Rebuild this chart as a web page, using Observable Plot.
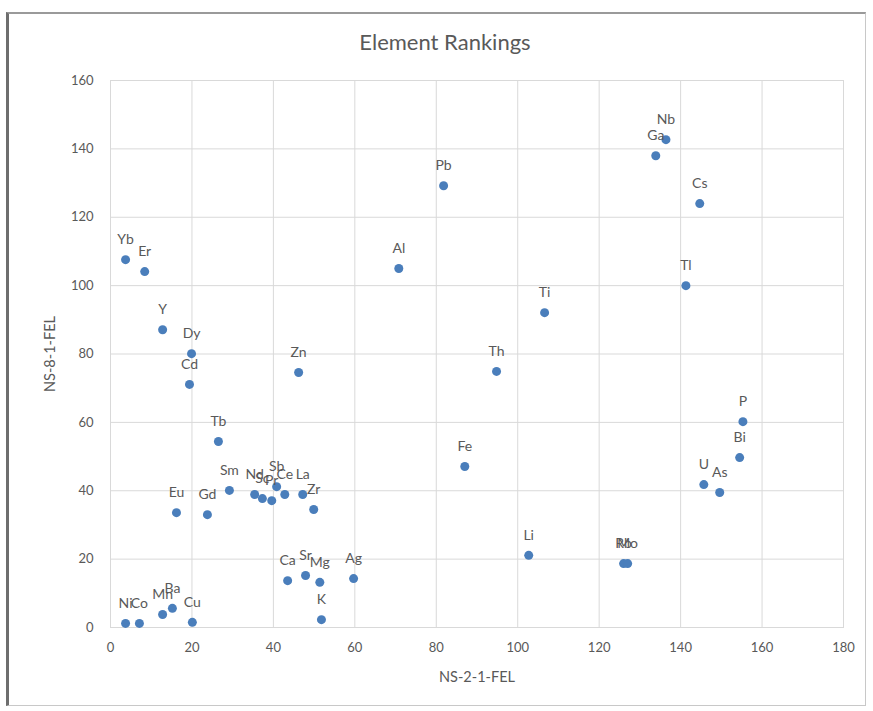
<!DOCTYPE html>
<html><head><meta charset="utf-8">
<script src="https://cdn.jsdelivr.net/npm/d3@7"></script>
<script src="https://cdn.jsdelivr.net/npm/@observablehq/plot@0.6"></script>
<style>
body{margin:0;background:#fff;font-family:Lato,"Open Sans",sans-serif;}
#wrap{position:relative;width:873px;height:711px;overflow:hidden;background:#fff}
#border{position:absolute;left:6px;top:12px;width:860px;height:694px;border:1px solid #c8c8c8;border-left:3px solid #6e6e6e;border-top:2px solid #9a9a9a;box-sizing:border-box}
#title{position:absolute;top:28px;left:0;width:890px;text-align:center;font-size:22px;color:#595959}
#chart{position:absolute;left:0;top:0}
</style>
</head><body>
<div id="wrap"><div id="border"></div><div id="chart"></div><div id="title">Element Rankings</div></div>
<script>
const elements = ["Yb","Er","Y","Dy","Cd","Tb","Eu","Gd","Sm","Nd","Sc","Pr","Sb","Ce","La","Zr","Zn","Al","Pb","Th","Ti","Fe","Li","Rb","Mo","Ga","Nb","Cs","Tl","P","Bi","U","As","Ca","Sr","Mg","K","Ag","Ni","Co","Mn","Ba","Cu"];
const ns2 = [3.7,8.4,12.8,19.9,19.4,26.5,16.2,23.8,29.2,35.4,37.3,39.6,40.8,42.8,47.2,49.9,46.2,70.8,81.8,94.8,106.6,87.0,102.7,126.0,127.0,133.9,136.4,144.7,141.3,155.3,154.5,145.7,149.6,43.5,47.9,51.4,51.8,59.7,3.7,7.1,12.8,15.2,20.1];
const ns8 = [107.6,104.1,87.1,80.1,71.1,54.4,33.6,33.0,40.1,38.9,37.7,37.1,41.2,38.9,38.9,34.5,74.6,105.0,129.2,74.9,92.1,47.1,21.1,18.7,18.7,138.0,142.7,124.0,100.0,60.2,49.7,41.8,39.5,13.7,15.2,13.2,2.3,14.3,1.2,1.2,3.8,5.6,1.5];
const xTicks = [0,20,40,60,80,100,120,140,160,180];
const yTicks = [0,20,40,60,80,100,120,140,160];
const xLabel = "NS-2-1-FEL";
const yLabel = "NS-8-1-FEL";

const data = elements.map((e,i)=>({name:e,x:ns2[i],y:ns8[i]}));
const grey = "#595959";
const chart = Plot.plot({
  width:873, height:711,
  marginLeft:110, marginRight:30, marginTop:80, marginBottom:84,
  style:{fontFamily:"Lato, 'Open Sans', sans-serif", color:grey, background:"transparent"},
  x:{domain:[0,180]},
  y:{domain:[0,160]},
  marks:[
    Plot.gridX(xTicks,{stroke:"#d9d9d9",strokeOpacity:1}),
    Plot.gridY(yTicks,{stroke:"#d9d9d9",strokeOpacity:1}),
    Plot.frame({stroke:"#d9d9d9"}),
    Plot.axisX(xTicks,{tickSize:0,tickPadding:15,fontSize:13,label:xLabel,labelAnchor:"center",labelOffset:54,labelArrow:"none"}),
    Plot.axisY(yTicks,{tickSize:0,tickPadding:17,fontSize:13,label:yLabel,labelAnchor:"center",labelOffset:66,labelArrow:"none"}),
    Plot.dot(data,{x:"x",y:"y",r:4.5,fill:"#4a7ebb"}),
    Plot.text(data,{x:"x",y:"y",text:"name",dy:-20,fill:grey,fontSize:14})
  ]
});
chart.querySelectorAll("g[aria-label='x-axis label'] text, g[aria-label='y-axis label'] text").forEach(t=>t.setAttribute("font-size","14.5"));
document.getElementById("chart").appendChild(chart);
</script>
</body></html>
